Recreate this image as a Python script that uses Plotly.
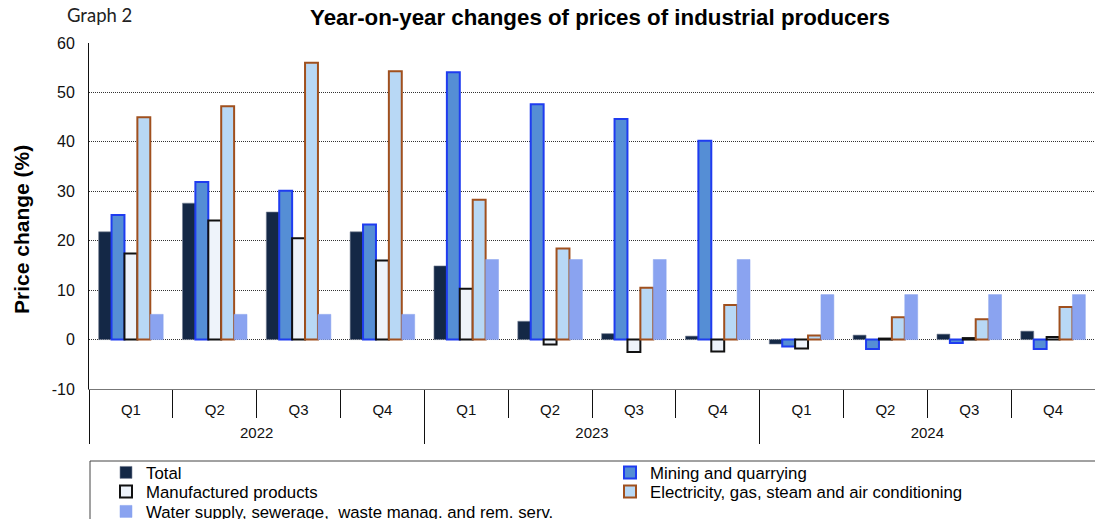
import plotly.graph_objects as go

# ---- data ----
years = ["2022", "2023", "2024"]
quarters = ["Q1", "Q2", "Q3", "Q4", "Q1", "Q2", "Q3", "Q4", "Q1", "Q2", "Q3", "Q4"]
quarters_per_year = 4

total = [21.8, 27.6, 25.8, 21.8, 14.9, 3.7, 1.2, 0.7, -0.9, 0.9, 1.1, 1.7]
mining = [25.2, 31.9, 30.1, 23.3, 54.1, 47.6, 44.6, 40.2, -1.4, -1.9, -0.7, -1.9]
manufactured = [17.4, 24.1, 20.5, 16.0, 10.3, -1.0, -2.5, -2.4, -1.8, 0.2, 0.3, 0.5]
electricity = [45.0, 47.2, 56.0, 54.3, 28.3, 18.4, 10.5, 7.0, 0.8, 4.5, 4.1, 6.6]
water = [5.1, 5.1, 5.1, 5.1, 16.2, 16.2, 16.2, 16.2, 9.1, 9.1, 9.1, 9.1]

y_ticks = [-10, 0, 10, 20, 30, 40, 50, 60]
y_tick_labels = ["-10", "0", "10", "20", "30", "40", "50", "60"]

series_names = [
    "Total",
    "Mining and quarrying",
    "Manufactured products",
    "Electricity, gas, steam and air conditioning",
    "Water supply, sewerage,  waste manag. and rem. serv.",
]

FONT = "Liberation Sans, Arial, sans-serif"

W, H = 1095, 519
ML, MR, MT, MB = 89, 0, 43, H - 389
PW, PH = W - ML - MR, H - MT - MB

def px_x(page_x):
    return (page_x - ML) / PW

def px_y(page_y):
    return (H - MB - page_y) / PH

n = len(quarters)
idx = list(range(n))
bounds = [i - 0.5 for i in range(n + 1)]
year_centers = [k * quarters_per_year + (quarters_per_year - 1) / 2 for k in range(len(years))]
year_bounds = [k * quarters_per_year - 0.5 for k in range(len(years) + 1)]

fig = go.Figure()

styles = [
    dict(color="#142846", line=dict(color="rgba(120,130,150,0.6)", width=1)),
    dict(color="#558ed5", line=dict(color="#1f3cf0", width=2)),
    dict(color="#eef3fa", line=dict(color="#111111", width=2)),
    dict(color="#b8d8f5", line=dict(color="#a0501e", width=2)),
    dict(color="#8aa3f0", line=dict(color="rgba(138,163,240,0.5)", width=1)),
]
legend_ids = ["legend", "legend", "legend2", "legend2", "legend3"]
for name, vals, st, lg in zip(series_names, [total, mining, manufactured, electricity, water], styles, legend_ids):
    fig.add_trace(go.Bar(x=idx, y=vals, name=name, marker=st, legend=lg))

# carrier for the year axis (no visible marks)
fig.add_trace(go.Scatter(x=year_centers, y=[None] * len(years), xaxis="x3", mode="markers",
                         showlegend=False, hoverinfo="skip"))

Y_RANGE = [-10, 60]
AX_RANGE = [-0.5, n - 0.5]
fig.update_layout(
    width=W, height=H,
    margin=dict(l=ML, r=MR, t=MT, b=MB, autoexpand=False),
    paper_bgcolor="white", plot_bgcolor="white",
    barmode="group", bargap=0.23, bargroupgap=0,
    font=dict(family=FONT, color="#111"),
    title=dict(
        text="<b>Year-on-year changes of prices of industrial producers</b>",
        font=dict(family=FONT, size=22.3, color="#000"),
        x=600 / W, xanchor="center", xref="container",
        y=1 - 17 / H, yanchor="middle", yref="container",
    ),
    # quarter labels + quarter separators (+ bottom frame line)
    xaxis=dict(
        range=AX_RANGE,
        tickmode="array", tickvals=idx, ticktext=quarters,
        ticks="", ticklabelstandoff=7,
        showgrid=False, showline=True, linecolor="#777", linewidth=1, zeroline=False,
        tickfont=dict(family=FONT, size=15, color="#111"),
        minor=dict(tickmode="array", tickvals=bounds, ticks="outside", ticklen=28,
                   tickcolor="#111", tickwidth=1, showgrid=False),
    ),
    # zero line with small boundary ticks
    xaxis2=dict(
        overlaying="x", anchor="free", position=10 / 70,
        range=AX_RANGE,
        tickmode="array", tickvals=bounds,
        showticklabels=False, ticks="outside", ticklen=5, tickcolor="#111",
        showline=True, linecolor="#111", linewidth=1,
        showgrid=False, zeroline=False,
    ),
    # year labels + year dividers
    xaxis3=dict(
        overlaying="x", anchor="free", position=0, side="bottom",
        range=AX_RANGE,
        tickmode="array", tickvals=year_centers, ticktext=years,
        ticks="", ticklabelstandoff=33,
        showgrid=False, showline=False, zeroline=False,
        tickfont=dict(family=FONT, size=15, color="#111"),
        minor=dict(tickmode="array", tickvals=year_bounds, ticks="outside", ticklen=54,
                   tickcolor="#111", tickwidth=1, showgrid=False),
    ),
    yaxis=dict(
        range=Y_RANGE, tickmode="array", tickvals=y_ticks, ticktext=y_tick_labels,
        showgrid=True, gridcolor="#333", griddash="1px,1px", gridwidth=1,
        zeroline=False,
        showline=True, linecolor="#111", linewidth=1,
        ticks="", ticklabelstandoff=10,
        tickfont=dict(family=FONT, size=16, color="#111"),
    ),
    showlegend=True,
)

leg_common = dict(
    orientation="h", xanchor="left", yanchor="top",
    font=dict(family=FONT, size=16.8, color="#000"),
    bgcolor="rgba(0,0,0,0)", borderwidth=0,
    entrywidth=459, entrywidthmode="pixels",
    itemclick=False, itemdoubleclick=False,
)
fig.update_layout(
    legend=dict(leg_common, x=px_x(106), y=px_y(455)),
    legend2=dict(leg_common, x=px_x(106), y=px_y(474)),
    legend3=dict(leg_common, x=px_x(106), y=px_y(494)),
)

# legend frame
fig.add_shape(type="rect", xref="paper", yref="paper",
              x0=px_x(90), x1=px_x(1120), y0=px_y(461), y1=px_y(560),
              line=dict(color="#444", width=1), fillcolor="rgba(0,0,0,0)", layer="below")

fig.add_annotation(text="Graph 2", xref="paper", yref="paper",
                   x=px_x(65), y=px_y(15), xanchor="left", yanchor="middle",
                   showarrow=False, font=dict(family="Lato, Carlito, sans-serif", size=18.5, color="#222"))
fig.add_annotation(text="<b>Price change (%)</b>", xref="paper", yref="paper",
                   x=px_x(22), y=px_y(230), xanchor="center", yanchor="middle", textangle=-90,
                   showarrow=False, font=dict(family=FONT, size=21, color="#000"))

fig.write_html("out.html", config={"displayModeBar": False},
               post_script="document.body.style.margin='0';")
